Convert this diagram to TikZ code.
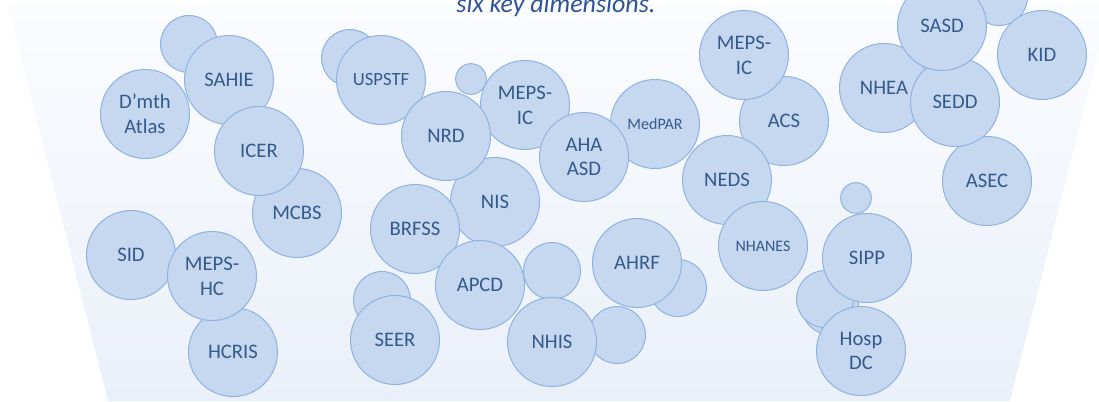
\documentclass[tikz,border=0pt]{standalone}
\usepackage{fontspec}
\setmainfont{Carlito}
\usepackage{tikz}
\definecolor{bubble_fill}{RGB}{198,216,239}
\definecolor{bubble_edge}{RGB}{143,179,224}
\definecolor{label_blue}{RGB}{52,89,138}
\definecolor{title_blue}{RGB}{47,84,150}
\definecolor{funnel_top}{RGB}{251,252,254}
\definecolor{funnel_mid}{RGB}{221,230,244}
\definecolor{funnel_bot}{RGB}{234,240,249}

\begin{document}
\begin{tikzpicture}[x=0.75pt,y=-0.75pt]
    \tikzstyle{bubble}=[draw=bubble_edge, line width=0.75pt, fill=bubble_fill, circle, inner sep=0pt, minimum size=66.75pt, text=label_blue, align=center, font=\fontsize{15.5}{18.6}\selectfont]
    \tikzstyle{small}=[bubble, minimum size=42.75pt]
    \tikzstyle{tiny}=[bubble, minimum size=23pt]

    \useasboundingbox (0,0) rectangle (1099,401);
    \shade[top color=funnel_top, middle color=funnel_mid, bottom color=funnel_bot]
      (7,3) -- (1111,3) -- (1010,401) -- (108,401) -- cycle;

    % unlabelled bubbles at the back
    \node[small] (s1)  at (189,44)  {};
    \node[small] (s2)  at (350,58)  {};
    \node[tiny]  (s3)  at (471,79)  {};
    \node[small] (s4)  at (382,300) {};
    \node[small] (s5)  at (552,271) {};
    \node[small] (s6)  at (617,335) {};
    \node[small] (s7)  at (678,288) {};
    \node[tiny]  (s8)  at (856,198) {};
    \node[small] (s9)  at (830,306) {};
    \node[small] (s10) at (825,299) {};
    \node[small] (s11) at (999,-3)  {};

    % left group
    \node[bubble] (dmth)   at (145,114) {D’mth\\Atlas};
    \node[bubble] (sahie)  at (229,80)  {SAHIE};
    \node[bubble] (mcbs)   at (297,213) {MCBS};
    \node[bubble] (icer)   at (259,151) {ICER};
    \node[bubble] (sid)    at (131,255) {SID};
    \node[bubble] (hcris)  at (233,352) {HCRIS};
    \node[bubble] (mepshc) at (212,276) {MEPS-\\HC};

    % middle group
    \node[bubble, font=\fontsize{14}{17}\selectfont] (uspstf) at (381,80) {USPSTF};
    \node[bubble, font=\fontsize{12}{14}\selectfont] (medpar) at (655,124) {MedPAR};
    \node[bubble] (mepsic) at (525,105) {MEPS-\\IC};
    \node[bubble] (nis)    at (495,202) {NIS};
    \node[bubble] (nrd)    at (446,136) {NRD};
    \node[bubble] (brfss)  at (415,229) {BRFSS};
    \node[bubble] (apcd)   at (480,285) {APCD};
    \node[bubble] (ahaasd) at (584,157) {AHA\\ASD};
    \node[bubble] (seer)   at (395,340) {SEER};
    \node[bubble] (nhis)   at (552,342) {NHIS};
    \node[bubble] (ahrf)   at (637,263) {AHRF};

    % right group
    \node[bubble] (acs)     at (784,121) {ACS};
    \node[bubble] (mepsic2) at (744,55)  {MEPS-\\IC};
    \node[bubble] (neds)    at (727,180) {NEDS};
    \node[bubble, font=\fontsize{12}{14}\selectfont] (nhanes) at (763,246) {NHANES};
    \node[bubble] (sipp)    at (867,258) {SIPP};
    \node[bubble] (hospdc)  at (861,351) {Hosp\\DC};
    \node[bubble] (nhea)    at (884,88)  {NHEA};
    \node[bubble] (asec)    at (987,181) {ASEC};
    \node[bubble] (sedd)    at (955,102) {SEDD};
    \node[bubble] (sasd)    at (942,26)  {SASD};
    \node[bubble] (kid)     at (1042,55) {KID};

    \node[anchor=base, text=title_blue, font=\fontsize{19.5}{22}\selectfont\itshape] (title) at (556,12) {six key dimensions.};
\end{tikzpicture}
\end{document}
